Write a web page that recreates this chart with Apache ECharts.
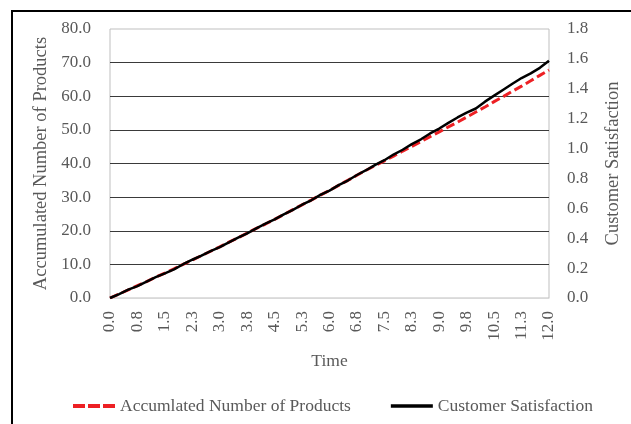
<!DOCTYPE html>
<html>
<head>
<meta charset="utf-8">
<script src="https://cdn.jsdelivr.net/npm/echarts@6/dist/echarts.min.js"></script>
<style>
    html, body { margin: 0; padding: 0; background: #fff; }
    #chart { width: 631px; height: 424px; }
</style>
</head>
<body>
<div id="chart"></div>
<script>
var times = [0, 0.25, 0.5, 0.75, 1, 1.25, 1.5, 1.75, 2, 2.25, 2.5, 2.75, 3, 3.25, 3.5, 3.75,
    4, 4.25, 4.5, 4.75, 5, 5.25, 5.5, 5.75, 6, 6.25, 6.5, 6.75, 7, 7.25, 7.5, 7.75,
    8, 8.25, 8.5, 8.75, 9, 9.25, 9.5, 9.75, 10, 10.25, 10.5, 10.75, 11, 11.25, 11.5, 11.75, 12];

var products = [0, 1.2, 2.4, 3.7, 4.9, 6.2, 7.4, 8.7, 10.0, 11.3, 12.6, 13.9, 15.2, 16.6, 17.9, 19.3,
    20.7, 22.0, 23.4, 24.8, 26.3, 27.7, 29.1, 30.6, 32.0, 33.5, 35.0, 36.5, 38.0, 39.4, 40.8, 42.2,
    43.7, 45.1, 46.5, 48.0, 49.4, 50.9, 52.3, 53.8, 55.3, 56.8, 58.4, 59.9, 61.5, 63.0, 64.6, 66.2, 67.8];

var satisfaction = [0.000, 0.026, 0.056, 0.080, 0.110, 0.140, 0.165, 0.191, 0.226, 0.256, 0.283, 0.314, 0.341, 0.372, 0.404, 0.433,
    0.466, 0.497, 0.526, 0.560, 0.590, 0.624, 0.654, 0.690, 0.719, 0.755, 0.786, 0.823, 0.855, 0.891, 0.922, 0.960,
    0.992, 1.030, 1.062, 1.101, 1.134, 1.172, 1.208, 1.240, 1.268, 1.314, 1.354, 1.394, 1.434, 1.472, 1.503, 1.540, 1.587];

var timeLabels = ['0.0', '0.8', '1.5', '2.3', '3.0', '3.8', '4.5', '5.3', '6.0',
    '6.8', '7.5', '8.3', '9.0', '9.8', '10.5', '11.3', '12.0'];

var fontFamily = '"Liberation Serif", "Times New Roman", serif';
var textGray = '#595959';

function pairs(xs, ys) {
    return xs.map(function (x, i) { return [x, ys[i]]; });
}

var myChart = echarts.init(document.getElementById('chart'));

var option = {
    backgroundColor: '#ffffff',
    animation: false,
    textStyle: { fontFamily: fontFamily },
    graphic: [{
        type: 'rect',
        shape: { x: 12, y: 11, width: 700, height: 500 },
        style: { fill: 'none', stroke: '#000', lineWidth: 2 },
        silent: true
    }],
    grid: {
        left: 110, right: 74, top: 29, bottom: 126,
        show: true,
        borderColor: '#bfbfbf',
        borderWidth: 1
    },
    legend: {
        left: 68,
        top: 392,
        itemWidth: 42,
        itemHeight: 14,
        itemGap: 40,
        textStyle: { fontFamily: fontFamily, fontSize: 17.5, color: textGray },
        data: [
            { name: 'Accumlated Number of Products', icon: 'path://M0,0H12V4H0Z M15,0H27V4H15Z M30,0H42V4H30Z', itemStyle: { color: '#ed2024' } },
            { name: 'Customer Satisfaction', icon: 'path://M0,0H42V3.5H0Z', itemStyle: { color: '#000' } }
        ]
    },
    xAxis: {
        type: 'value',
        min: 0,
        max: 12,
        interval: 0.75,
        name: 'Time',
        nameLocation: 'middle',
        nameGap: 54,
        nameTextStyle: { fontFamily: fontFamily, fontSize: 17.5, color: textGray },
        axisLine: { show: true, lineStyle: { color: '#d9d9d9', width: 1 } },
        axisTick: { show: false },
        splitLine: { show: false },
        axisLabel: {
            rotate: 90,
            margin: 13,
            fontFamily: fontFamily,
            fontSize: 17,
            color: textGray,
            formatter: function (value, index) {
                return timeLabels[index];
            }
        }
    },
    yAxis: [{
        type: 'value',
        min: 0,
        max: 80,
        interval: 10,
        name: 'Accumulated Number of Products',
        nameLocation: 'middle',
        nameRotate: 90,
        nameGap: 56,
        nameTextStyle: { fontFamily: fontFamily, fontSize: 18.5, color: textGray },
        axisLine: { show: false },
        axisTick: { show: false },
        axisLabel: {
            margin: 19,
            fontFamily: fontFamily,
            fontSize: 17,
            color: textGray,
            formatter: function (v) { return v.toFixed(1); }
        },
        splitLine: {
            show: true,
            showMinLine: false,
            showMaxLine: false,
            lineStyle: { color: '#3a3a3a', width: 1 }
        }
    }, {
        type: 'value',
        min: 0,
        max: 1.8,
        interval: 0.2,
        position: 'right',
        name: 'Customer Satisfaction',
        nameLocation: 'middle',
        nameRotate: 90,
        nameGap: 55,
        nameTextStyle: { fontFamily: fontFamily, fontSize: 18.5, color: textGray },
        axisLine: { show: false },
        axisTick: { show: false },
        splitLine: { show: false },
        axisLabel: {
            margin: 18,
            fontFamily: fontFamily,
            fontSize: 17,
            color: textGray,
            formatter: function (v) { return v.toFixed(1); }
        }
    }],
    series: [{
        name: 'Accumlated Number of Products',
        type: 'line',
        yAxisIndex: 0,
        showSymbol: false,
        symbol: 'none',
        color: '#ed2024',
        lineStyle: { color: '#ed2024', width: 3, type: [9, 4] },
        data: pairs(times, products)
    }, {
        name: 'Customer Satisfaction',
        type: 'line',
        yAxisIndex: 1,
        showSymbol: false,
        symbol: 'none',
        color: '#000',
        lineStyle: { color: '#000', width: 2.5 },
        data: pairs(times, satisfaction)
    }]
};

myChart.setOption(option);
</script>
</body>
</html>
